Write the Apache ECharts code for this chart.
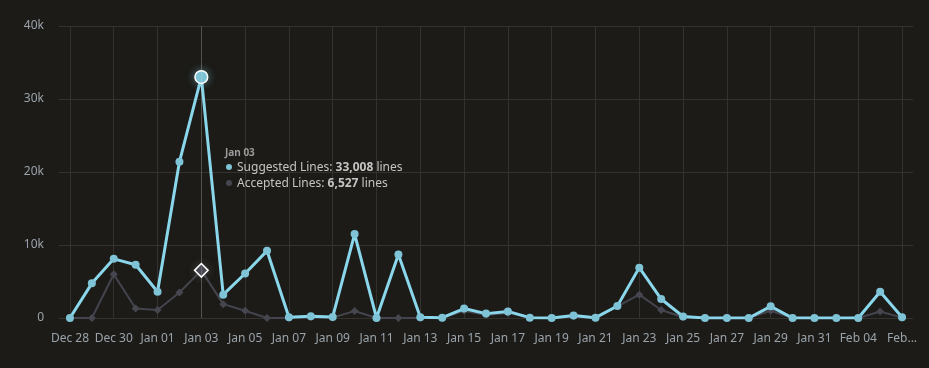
<!DOCTYPE html>
<html>
<head>
<meta charset="utf-8">
<script src="https://cdn.jsdelivr.net/npm/echarts@6/dist/echarts.min.js"></script>
<style>
html,body{margin:0;padding:0;background:#1c1b17;}
#chart{width:929px;height:368px;}
</style>
</head>
<body>
<div id="chart"></div>
<script>
const categories = ['Dec 28','Dec 29','Dec 30','Dec 31','Jan 01','Jan 02','Jan 03','Jan 04','Jan 05','Jan 06','Jan 07','Jan 08','Jan 09','Jan 10','Jan 11','Jan 12','Jan 13','Jan 14','Jan 15','Jan 16','Jan 17','Jan 18','Jan 19','Jan 20','Jan 21','Jan 22','Jan 23','Jan 24','Jan 25','Jan 26','Jan 27','Jan 28','Jan 29','Jan 30','Jan 31','Feb 01','Feb 04','Feb 05','Feb 06'];
const suggestedLines = [0,4750,8100,7300,3600,21400,33008,3200,6100,9200,100,250,150,11500,0,8700,100,50,1300,600,900,50,0,350,50,1650,6900,2600,200,0,0,0,1600,0,0,0,0,3600,100];
const acceptedLines = [0,0,6000,1300,1100,3500,6527,1900,1000,0,0,100,50,950,0,0,0,0,1000,400,700,0,0,200,0,1600,3200,1100,100,0,0,0,1000,0,0,0,0,900,50];
const yTicks = [0,10000,20000,30000,40000];
const seriesNames = ['Suggested Lines','Accepted Lines'];
const highlightIndex = 6;

const FONT = '"Noto Sans", "Open Sans", sans-serif';
const chart = echarts.init(document.getElementById('chart'));
const fmt = n => n.toLocaleString('en-US');
const colS = '#7ec3d6', colA = '#3d3e46';

chart.setOption({
  backgroundColor: '#1c1b17',
  animation: false,
  textStyle: {fontFamily: FONT},
  grid: {left: 59, right: 16, top: 26, bottom: 50},
  tooltip: {
    trigger: 'axis',
    triggerOn: 'none',
    alwaysShowContent: true,
    backgroundColor: 'transparent',
    borderWidth: 0,
    padding: 0,
    extraCssText: 'box-shadow:none;',
    position: [225, 145],
    axisPointer: {type: 'line', lineStyle: {color: 'rgba(255,255,255,0.16)', width: 1, type: 'solid'}},
    formatter: params => {
      const dot = c => '<span style="display:inline-block;width:6px;height:6px;border-radius:50%;background:' + c + ';margin:0 5px 1px 1px;vertical-align:middle"></span>';
      let h = '<div style="font-family:' + FONT.replace(/"/g, "'") + ';font-size:10px;font-weight:bold;color:#9c9c9c;line-height:14px">' + params[0].axisValue + '</div>';
      params.forEach((p, i) => {
        h += '<div style="font-family:' + FONT.replace(/"/g, "'") + ';font-size:12px;color:#c4c4c4;line-height:16px">' + dot(i === 0 ? colS : '#45464f') + p.seriesName + ': <b>' + fmt(p.value) + '</b> lines</div>';
      });
      return h;
    }
  },
  xAxis: {
    type: 'category',
    data: categories,
    boundaryGap: true,
    axisLine: {show: false},
    axisTick: {show: true, alignWithLabel: true, inside: true, length: 292, interval: 1, lineStyle: {color: '#33322e', width: 1}},
    splitLine: {show: false},
    axisLabel: {
      interval: 1, color: '#9aa3ab', fontSize: 12, margin: 15, fontFamily: FONT,
      formatter: (v, i) => i === categories.length - 1 ? v.slice(0, 3) + '...' : v
    }
  },
  yAxis: {
    type: 'value',
    min: yTicks[0], max: yTicks[yTicks.length - 1], interval: yTicks[1] - yTicks[0],
    axisLine: {show: false}, axisTick: {show: false},
    splitLine: {lineStyle: {color: '#33322e', width: 1}},
    axisLabel: {color: '#9aa3ab', fontSize: 12, margin: 15, fontFamily: FONT,
      formatter: v => v === 0 ? '0' : (v / 1000) + 'k'}
  },
  series: [
    {
      name: seriesNames[0], type: 'line', data: suggestedLines, z: 3,
      symbol: 'circle', symbolSize: 8, showSymbol: true,
      lineStyle: {color: colS, width: 3},
      itemStyle: {color: colS, borderWidth: 0},
      emphasis: {scale: 1.6, lineStyle: {width: 3},
        itemStyle: {color: colS, borderColor: '#ffffff', borderWidth: 1.5, shadowBlur: 8, shadowColor: 'rgba(126,195,214,0.5)'}}
    },
    {
      name: seriesNames[1], type: 'line', data: acceptedLines, z: 2,
      symbol: 'diamond', symbolSize: 8, showSymbol: true,
      lineStyle: {color: colA, width: 2},
      itemStyle: {color: '#45464f', borderWidth: 0},
      emphasis: {scale: 1.7, lineStyle: {width: 2},
        itemStyle: {color: '#45464f', borderColor: '#ffffff', borderWidth: 1.5, shadowBlur: 10, shadowColor: 'rgba(120,120,130,0.4)'}}
    }
  ]
});
chart.dispatchAction({type: 'showTip', seriesIndex: 0, dataIndex: highlightIndex});
</script>
</body>
</html>
